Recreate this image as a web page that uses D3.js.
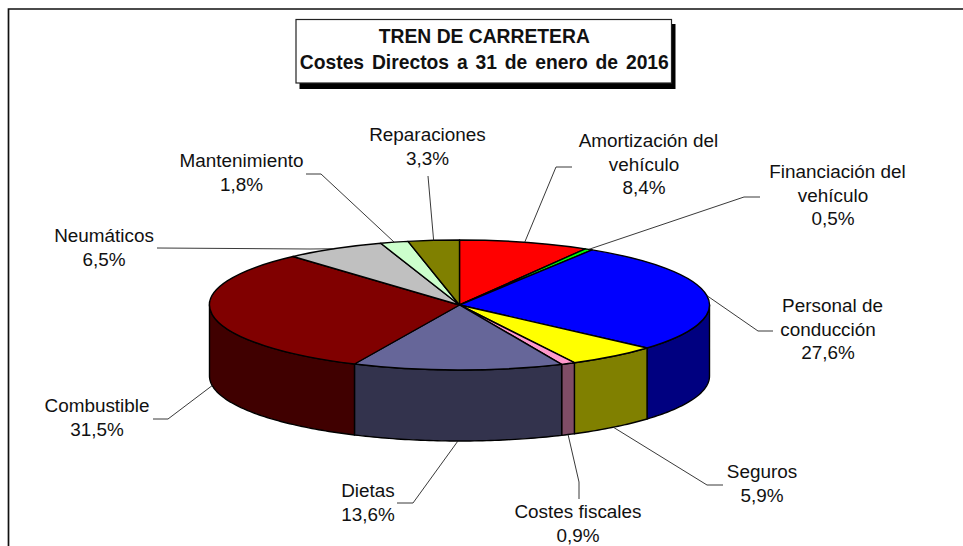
<!DOCTYPE html>
<html><head><meta charset="utf-8">
<script src="https://cdn.jsdelivr.net/npm/d3@7/dist/d3.min.js"></script>
<style>html,body{margin:0;padding:0;background:#fff}svg{display:block}text{font-family:"Liberation Sans",Arial,sans-serif;fill:#111}</style>
</head><body><svg id="c" width="963" height="546"></svg>
<script>
const categories=["Amortización del vehículo","Financiación del vehículo","Personal de conducción","Seguros","Costes fiscales","Dietas","Combustible","Neumáticos","Mantenimiento","Reparaciones"];
const values=[8.4,0.5,27.6,5.9,0.9,13.6,31.5,6.5,1.8,3.3];
const valueLabels=["8,4%","0,5%","27,6%","5,9%","0,9%","13,6%","31,5%","6,5%","1,8%","3,3%"];
const titleLines=["TREN DE CARRETERA","Costes Directos a 31 de enero de 2016"];
const labelLines=[["Amortización del","vehículo"],["Financiación del","vehículo"],["Personal de","conducción"],["Seguros"],["Costes fiscales"],["Dietas"],["Combustible"],["Neumáticos"],["Mantenimiento"],["Reparaciones"]];
const topColors=["#ff0000","#00ff00","#0000ff","#ffff00","#ff99cc","#666699","#800000","#c0c0c0","#ccffcc","#808000"];
const sideColors=["#800000","#008000","#000080","#808000","#804d66","#33334d","#400000","#606060","#668066","#404000"];
// layout of the labels (centre x, first baseline) and leader elbows, in pixels
const labelPos=[[644,147],[833,178],[828,312],[762,478],[578,518.3],[368,497],[97,412],[104,242],[241.5,167],[427.5,141]];
const leaderMid=[[556,167],[744,197],[758,331],[707,485],[579,482],[413,503],[168,419],[310,249],[321,174],[428,176]];
const leaderEnd=[[572,167],[760,197],[773,331],[723,485],[579,499],[397,503],[153,419],[157,248],[306,174],[428,176]];

const W=963,H=546,cx=459.5,cy=305,rx=250,ry=65,depth=71;
const svg=d3.select("#c");
const x=d3.scaleLinear().domain([-1,1]).range([cx-rx,cx+rx]);
const y=d3.scaleLinear().domain([-1,1]).range([cy-ry,cy+ry]);
const ptx=a=>x(Math.sin(a)),pty=a=>y(-Math.cos(a));
const arcs=d3.pie().sort(null).value(d=>d)(values);
const PI=Math.PI;

// frame
svg.append("path").attr("d",`M${W},9H8.5V${H}`).attr("fill","none").attr("stroke","#111").attr("stroke-width",1.7);

// walls
const wall=d3.area().x(ptx).y0(pty).y1(a=>pty(a)+depth);
arcs.forEach((d,i)=>{
  const a0=Math.max(d.startAngle,PI/2),a1=Math.min(d.endAngle,3*PI/2);
  if(a1<=a0)return;
  const n=Math.max(2,Math.ceil((a1-a0)*60));
  const ang=d3.range(n+1).map(k=>a0+(a1-a0)*k/n);
  svg.append("path").attr("d",wall(ang)).attr("fill",sideColors[i]).attr("stroke","#000").attr("stroke-width",1.4).attr("stroke-linejoin","round");
});
// top face
const arc=d3.arc().innerRadius(0).outerRadius(rx);
const topFace=svg.append("g").attr("transform",`translate(${cx},${cy}) scale(1,${ry/rx})`);
topFace.selectAll("path").data(arcs).join("path").attr("d",arc)
  .attr("fill",(d,i)=>topColors[i]).attr("stroke","#000").attr("stroke-width",1.4)
  .attr("vector-effect","non-scaling-stroke").attr("stroke-linejoin","round");

// leaders
arcs.forEach((d,i)=>{
  const m=(d.startAngle+d.endAngle)/2;
  const front=Math.cos(m)<0;
  const sx=ptx(m),sy=pty(m)+(front?depth:0);
  svg.append("polyline").attr("points",[[sx,sy],leaderMid[i],leaderEnd[i]].join(" "))
    .attr("fill","none").attr("stroke","#222").attr("stroke-width",0.9);
});
// labels
const fs=18.9,lh=23.6;
categories.forEach((c,i)=>{
  const lines=labelLines[i].concat(valueLabels[i]);
  const t=svg.append("text").attr("text-anchor","middle").attr("font-size",fs);
  lines.forEach((l,k)=>t.append("tspan")
    .attr("x",labelPos[i][0]+(lines.length>2&&k===0?4.5:0))
    .attr("y",labelPos[i][1]+k*lh).text(l));
});
// title
svg.append("rect").attr("x",299.5).attr("y",24).attr("width",376).attr("height",65).attr("fill","#000");
svg.append("rect").attr("x",296).attr("y",19.5).attr("width",375.5).attr("height",63.5).attr("fill","#fff").attr("stroke","#222").attr("stroke-width",1.2);
titleLines.forEach((l,k)=>svg.append("text").attr("x",484.3).attr("y",43.3+k*26).attr("text-anchor","middle").attr("font-size",19.3).attr("font-weight","bold").attr("fill","#000").attr("word-spacing",k?2.5:0).text(l));
</script></body></html>
